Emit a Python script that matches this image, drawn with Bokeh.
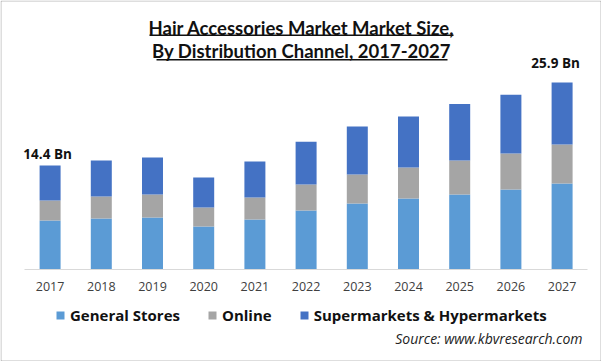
from bokeh.plotting import figure
from bokeh.models import (ColumnDataSource, Label, BoxAnnotation, Legend, LegendItem,
                          Range1d, FixedTicker)
from bokeh.embed import file_html
from bokeh.resources import INLINE
from bokeh.core.properties import value

# ---------------- data ----------------
years = [2017, 2018, 2019, 2020, 2021, 2022, 2023, 2024, 2025, 2026, 2027]
general_stores = [6.79, 7.06, 7.20, 5.96, 6.93, 8.17, 9.14, 9.83, 10.39, 11.08, 11.91]
online = [2.77, 3.05, 3.19, 2.63, 3.05, 3.60, 4.02, 4.29, 4.71, 4.99, 5.40]
supermarkets = [4.84, 4.99, 5.11, 4.15, 4.98, 5.93, 6.64, 7.08, 7.80, 8.13, 8.59]
series_names = ["General Stores", "Online", "Supermarkets & Hypermarkets"]
colors = ["#5B9BD5", "#A5A5A5", "#4472C4"]

label_years = [2017, 2027]
label_texts = ["14.4 Bn", "25.9 Bn"]

title_line1 = "Hair Accessories Market Market Size,"
title_line2 = "By Distribution Channel, 2017-2027"
source_text = "Source: www.kbvresearch.com"

# ---------------- figure ----------------
src = ColumnDataSource(dict(year=years, gs=general_stores, on=online, sm=supermarkets))

W, H = 601, 361
px_x = 51.2      # pixels per year
px_y = 7.222     # pixels per Bn
x0 = years[0] - 0.5 - 24 / px_x
x1 = x0 + W / px_x
y0 = -(H - 269) / px_y
y1 = y0 + H / px_y

p = figure(width=W, height=H, x_range=Range1d(x0, x1), y_range=Range1d(y0, y1),
           output_backend="svg", toolbar_location=None,
           min_border_left=0, min_border_right=0, min_border_top=0, min_border_bottom=0)
p.outline_line_color = None
p.xgrid.grid_line_color = None
p.ygrid.grid_line_color = None
p.yaxis.visible = False
p.background_fill_color = "white"
p.border_fill_color = "white"

renderers = p.vbar_stack(["gs", "on", "sm"], x="year", width=0.41, color=colors,
                         line_color=None, source=src)

ax = p.xaxis[0]
ax.fixed_location = 0
ax.bounds = (years[0] - 0.5, years[-1] + 0.5)
ax.ticker = FixedTicker(ticks=years)
ax.axis_line_color = "#D9D9D9"
ax.axis_line_width = 1
ax.major_tick_line_color = None
ax.minor_tick_line_color = None
ax.major_tick_out = 0
ax.major_tick_in = 0
ax.minor_tick_out = 0
ax.major_label_standoff = 12
ax.major_label_text_font = "Open Sans"
ax.major_label_text_font_size = "12.5px"
ax.major_label_text_color = "#404040"

# total labels
totals = [g + o + s for g, o, s in zip(general_stores, online, supermarkets)]
lab_y = [totals[years.index(y)] for y in label_years]
offsets = [(-2.5, -12), (-6.5, -19)]
for yr, ty, tx, (dx, dy) in zip(label_years, lab_y, label_texts, offsets):
    p.text(x=[yr], y=[ty], text=[tx], x_offset=dx, y_offset=dy,
           text_align="center", text_baseline="middle",
           text_font=value("Open Sans"), text_font_style="bold",
           text_font_size="13.5px", text_color="#111111")

# title (two lines, underlined)
for txt, cy in [(title_line1, 27), (title_line2, 50)]:
    p.add_layout(Label(x=301, y=cy, x_units="canvas", y_units="canvas", text=txt,
                       text_align="center", text_baseline="alphabetic",
                       text_font="Lato", text_font_style="bold",
                       text_font_size="18.5px", text_color="#111111"))
for l, r, t, b in [(149, 453, 34, 35.5), (156, 447, 58.5, 60)]:
    p.add_layout(BoxAnnotation(left=l, right=r, top=t, bottom=b,
                               left_units="canvas", right_units="canvas",
                               top_units="canvas", bottom_units="canvas",
                               fill_color="#111111", fill_alpha=1, line_color=None))

# outer border
p.add_layout(BoxAnnotation(left=0.5, right=600.5, top=0.5, bottom=360.5,
                           left_units="canvas", right_units="canvas",
                           top_units="canvas", bottom_units="canvas",
                           fill_alpha=0, line_color="#222222", line_width=1))

legend = Legend(items=[LegendItem(label=n, renderers=[r]) for n, r in zip(series_names, renderers)],
                orientation="horizontal", location=(55, 36),
                glyph_width=10, glyph_height=10, label_standoff=5, spacing=27,
                label_text_font="Open Sans", label_text_font_style="bold",
                label_text_font_size="15px", label_text_color="#111111",
                border_line_color=None, background_fill_alpha=0,
                padding=0, margin=0)
p.add_layout(legend, "center")

p.add_layout(Label(x=582, y=338, x_units="canvas", y_units="canvas", text=source_text,
                   text_align="right", text_baseline="middle", text_font="Open Sans",
                   text_font_style="italic", text_font_size="14px", text_color="#222222"))

open("out.html", "w").write(file_html(p, INLINE))
